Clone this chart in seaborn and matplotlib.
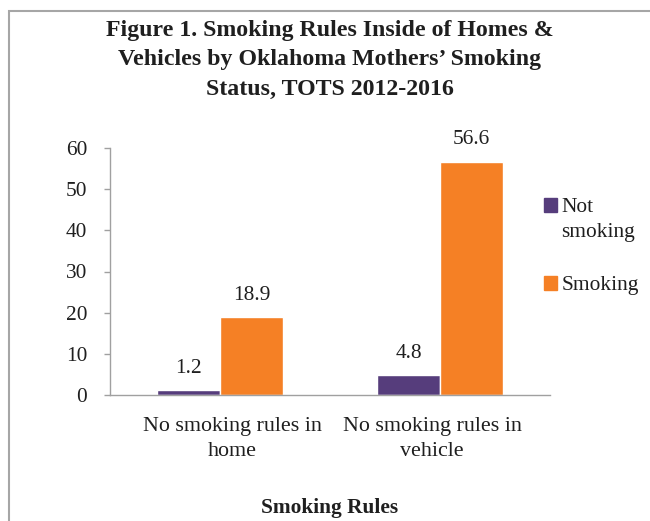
import matplotlib
matplotlib.use("Agg")
import matplotlib.pyplot as plt
import seaborn as sns
import pandas as pd
from matplotlib.patches import Rectangle
from matplotlib.legend_handler import HandlerPatch

categories = ["No smoking rules in\nhome", "No smoking rules in\nvehicle"]
groups = ["Not\nsmoking", "Smoking"]
not_smoking = [1.2, 4.8]
smoking = [18.9, 56.6]
yticks = [0, 10, 20, 30, 40, 50, 60]

df = pd.DataFrame({
    "cat": categories * 2,
    "group": [groups[0]] * 2 + [groups[1]] * 2,
    "value": not_smoking + smoking,
})

sns.set_theme(style="white")
plt.rcParams["font.family"] = ["Liberation Serif", "DejaVu Serif"]
text_color = "#1f1f1f"
axis_color = "#A0A0A0"
palette = {groups[0]: "#563D7C", groups[1]: "#F58025"}
fs = 15.4

fig = plt.figure(figsize=(6.5, 5.21), dpi=100)
ax = fig.add_axes([110/650, 1-395/521, 440/650, (395-148)/521])

sns.barplot(data=df, x="cat", y="value", hue="group", order=categories,
            hue_order=groups, palette=palette, width=0.573, saturation=1,
            ax=ax, legend=False)

ax.set_ylim(0, 60)
ax.set_xlim(-0.5, 1.5)
ax.set_yticks(yticks)
ax.set_yticklabels([str(v) for v in yticks], fontsize=fs, color=text_color)
# category labels sit slightly off the bar-group centres, as in the original
ax.set_xticks([0.055, 0.964])
ax.set_xticklabels(categories, fontsize=15.8, color=text_color, linespacing=1.4)
ax.set_xticks([-0.5, 0.5, 1.5], minor=True)
ax.tick_params(axis="x", which="major", length=0, pad=16)
ax.tick_params(axis="x", which="minor", length=5, color=axis_color, width=1, direction="out")
ax.tick_params(axis="y", length=4.5, color=axis_color, width=1, direction="out", pad=12, left=True)
for s in ["top", "right"]:
    ax.spines[s].set_visible(False)
for s in ["left", "bottom"]:
    ax.spines[s].set_color(axis_color)
    ax.spines[s].set_linewidth(1)
ax.set_ylabel("")
ax.set_xlabel("Smoking Rules", fontsize=fs, fontweight="bold", color=text_color, labelpad=27)

for cont in ax.containers:
    for bar in cont:
        h = bar.get_height()
        ax.annotate(f"{h:.1f}", (bar.get_x() + bar.get_width()/2, h),
                    xytext=(0, 9), textcoords="offset points",
                    ha="center", va="bottom", fontsize=fs, color=text_color)


def top_square(legend, orig_handle, xdescent, ydescent, width, height, fontsize):
    lines = 2 if "\n" in orig_handle.get_label() else 1
    shift = (lines - 1) * fontsize * 0.69
    return Rectangle((-xdescent, -ydescent + shift), width, height)


handles = []
for g in groups:
    r = Rectangle((0, 0), 1, 1, color=palette[g])
    r.set_label(g)
    handles.append(r)
leg = ax.legend(handles, groups, loc="upper left", bbox_to_anchor=(525/650, 1-179/521),
                bbox_transform=fig.transFigure, frameon=False, fontsize=fs,
                handlelength=0.6, handleheight=0.6, handletextpad=0.2,
                labelspacing=1.6, labelcolor=text_color,
                handler_map={Rectangle: HandlerPatch(patch_func=top_square)})
for t in leg.get_texts():
    t.set_linespacing(1.4)

fig.text(330/650, 1-20/521,
         "Figure 1. Smoking Rules Inside of Homes &\nVehicles by Oklahoma Mothers\u2019 Smoking\nStatus, TOTS 2012-2016",
         ha="center", va="top", fontsize=17.2, fontweight="bold", color=text_color, linespacing=1.52)

fig.patches.append(Rectangle((9/650, -0.1), 1.2, 1.1 - 11/521, transform=fig.transFigure,
                             fill=False, edgecolor="#A6A6A6", linewidth=1.5))

fig.savefig("out.png", dpi=100)
